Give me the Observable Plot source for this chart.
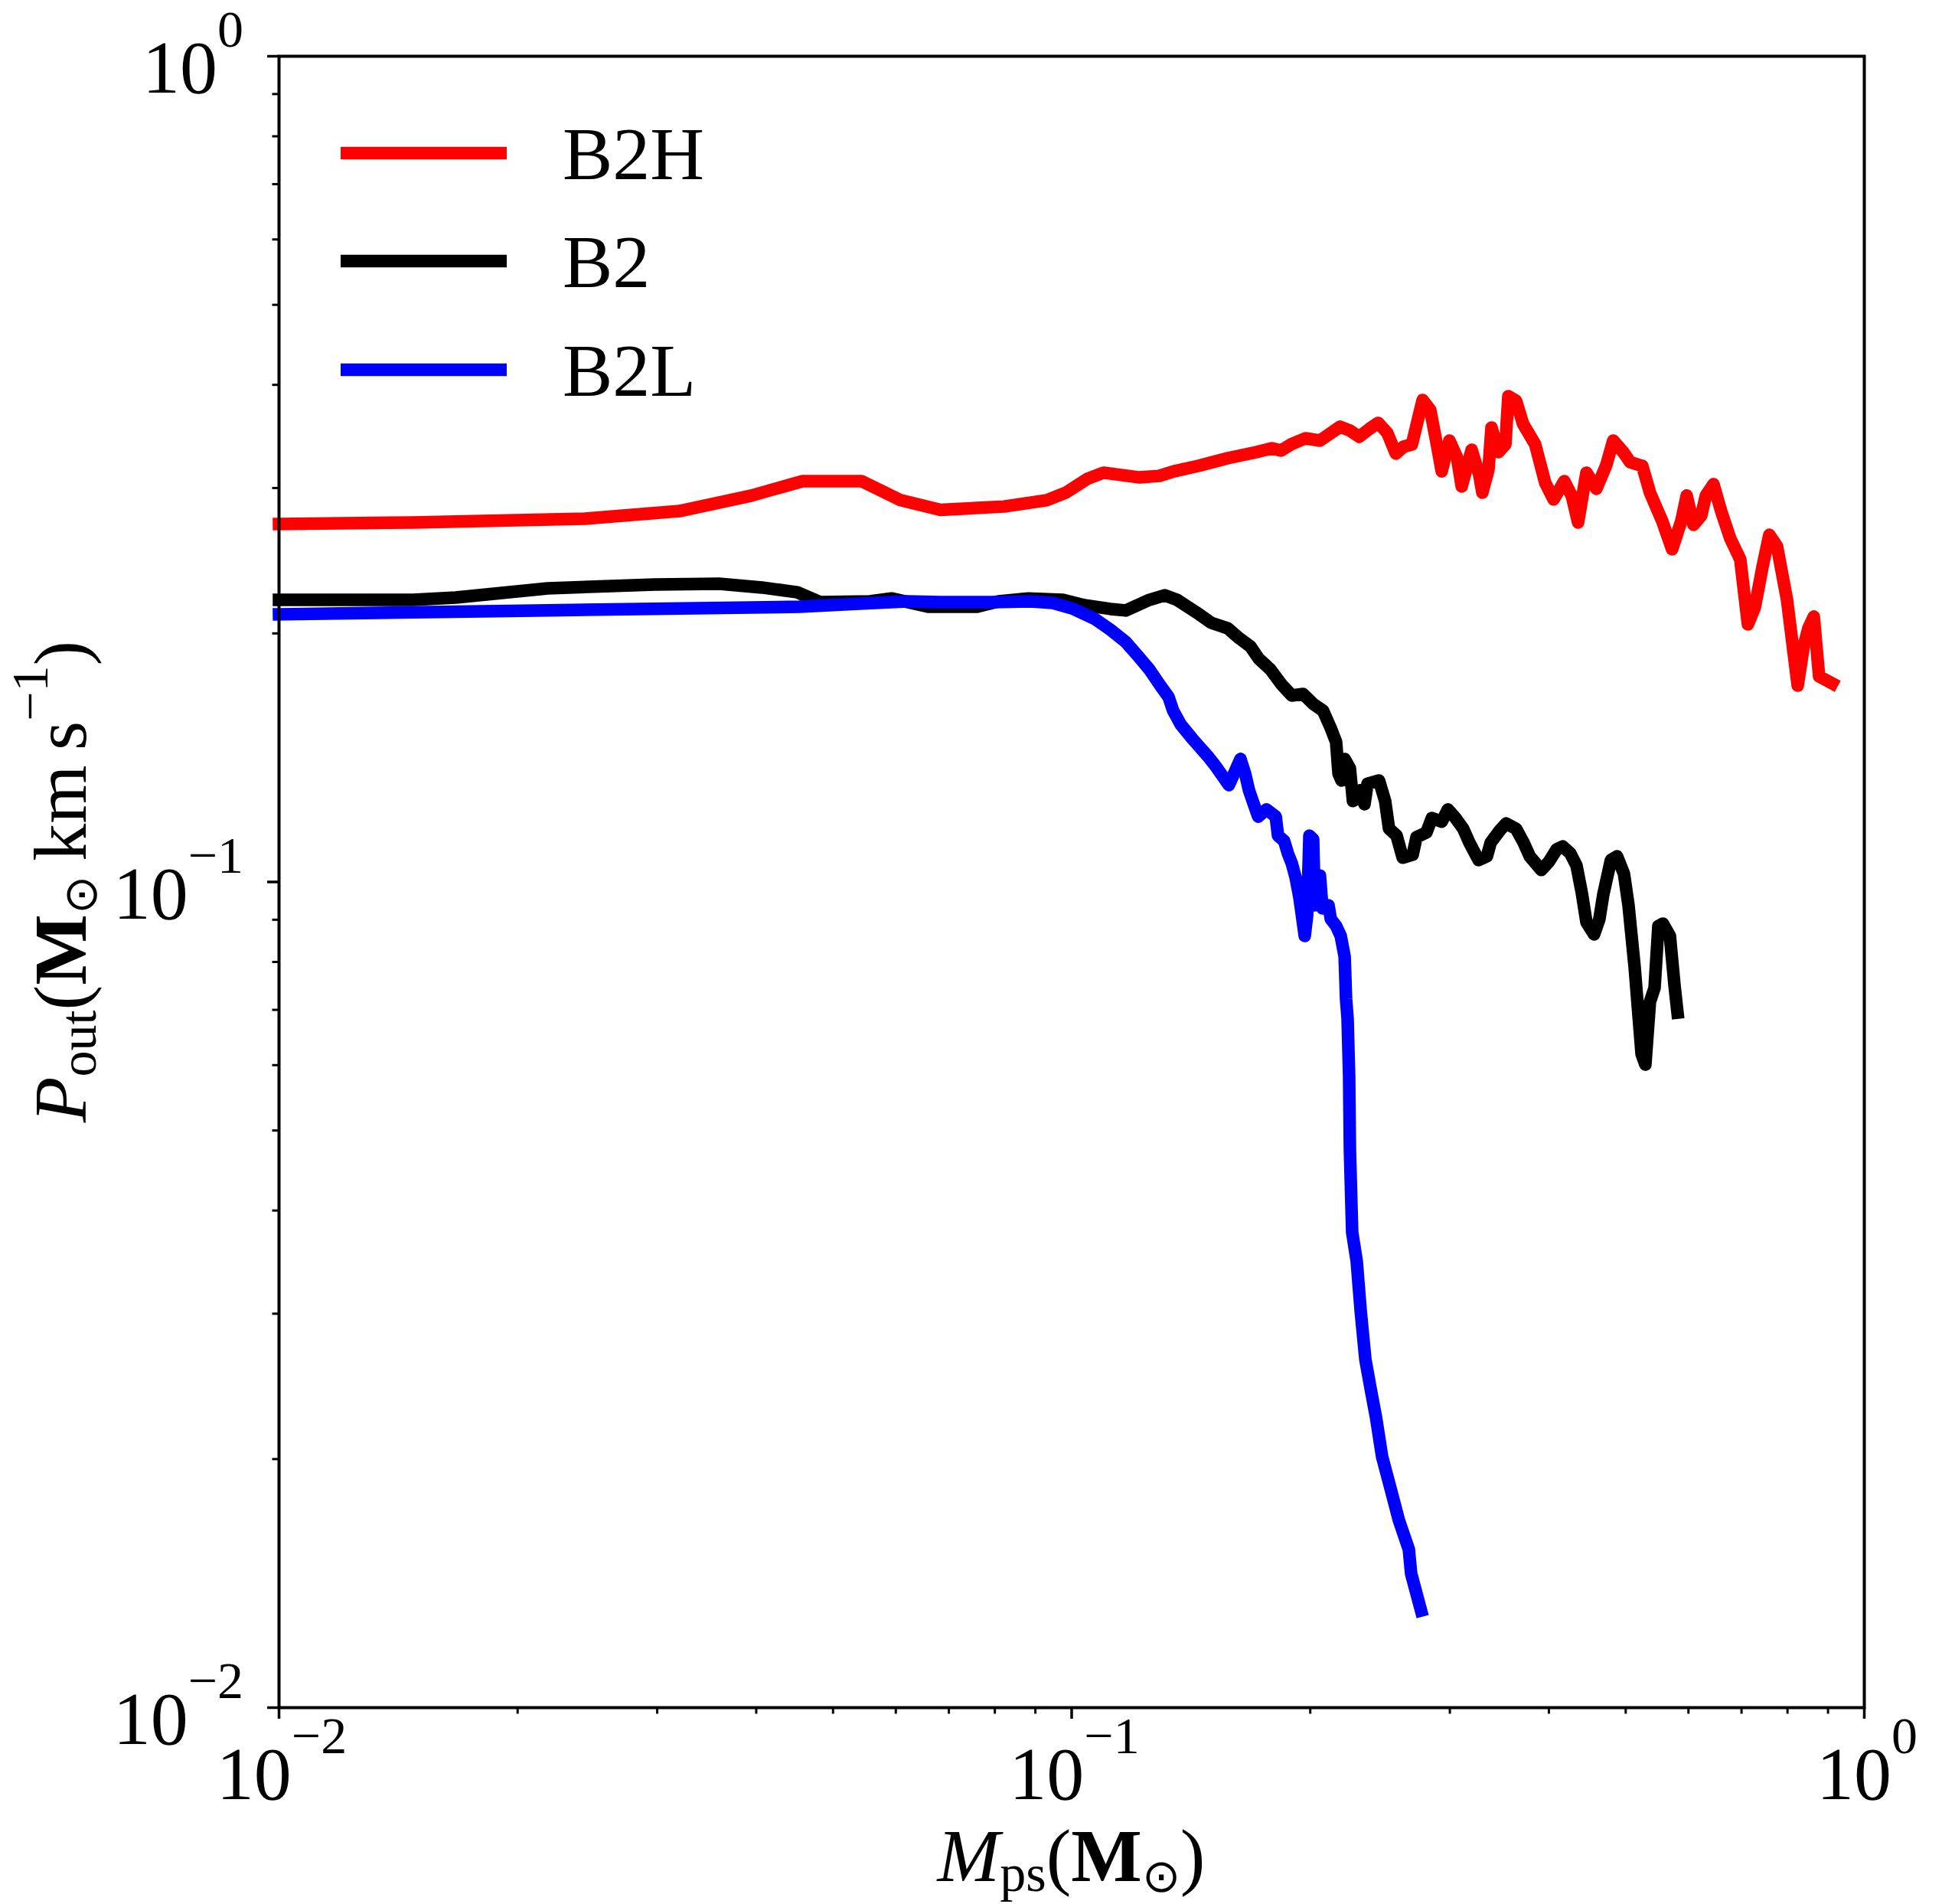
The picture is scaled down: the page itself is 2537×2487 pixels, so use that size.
<!DOCTYPE html>
<html><head><meta charset="utf-8">
<script src="https://cdn.jsdelivr.net/npm/d3@7"></script>
<script src="https://cdn.jsdelivr.net/npm/@observablehq/plot@0.6"></script>
<style>body{margin:0;background:#fff;} svg{display:block}</style>
</head><body><div id="chart"></div>
<script>
const seriesNames = ["B2H", "B2", "B2L"];
const seriesColors = ["#ff0000", "#000000", "#0000ff"];

const b2hM = [0.0100,0.01476,0.02433,0.03200,0.03943,0.04576,0.05431,0.06084,0.06831,0.08214,0.09302,0.09836,0.1047,0.1097,0.1218,0.1290,0.1346,0.1445,0.1573,0.1711,0.1789,0.1837,0.1891,0.1972,0.2057,0.2181,0.2244,0.2305,0.2373,0.2436,0.2502,0.2564,0.2622,0.2687,0.2735,0.2772,0.2834,0.2885,0.2930,0.2996,0.3063,0.3105,0.3196,0.3268,0.3297,0.3356,0.3386,0.3455,0.3525,0.3556,0.3636,0.3710,0.3844,0.3957,0.4055,0.4183,0.4277,0.4354,0.4461,0.4592,0.4726,0.4822,0.4964,0.5064,0.5247,0.5365,0.5559,0.5722,0.5877,0.5969,0.6089,0.6227,0.6311,0.6452,0.6597,0.6776,0.6974,0.7131,0.7276,0.7440,0.7589,0.7760,0.7989,0.8241,0.8388,0.8501,0.8635,0.8770,0.9108];
const b2hP = [0.2713,0.2725,0.2754,0.2813,0.2937,0.3058,0.3058,0.2900,0.2822,0.2849,0.2900,0.2962,0.3078,0.3131,0.3090,0.3103,0.3143,0.3191,0.3260,0.3316,0.3352,0.3330,0.3388,0.3446,0.3424,0.3559,0.3521,0.3461,0.3536,0.3597,0.3498,0.3302,0.3366,0.3388,0.3635,0.3835,0.3730,0.3409,0.3143,0.3424,0.3267,0.3013,0.3337,0.3110,0.2962,0.3157,0.3551,0.3316,0.3388,0.3876,0.3826,0.3589,0.3388,0.3045,0.2906,0.3058,0.2931,0.2725,0.3131,0.2994,0.3198,0.3424,0.3316,0.3225,0.3191,0.2962,0.2737,0.2529,0.2737,0.2937,0.2707,0.2778,0.2937,0.3032,0.2813,0.2605,0.2459,0.2051,0.2150,0.2407,0.2633,0.2550,0.2196,0.1729,0.1932,0.2029,0.2096,0.1774,0.1740];

const b2M = [0.0100,0.01476,0.01671,0.02183,0.02980,0.03592,0.04068,0.04506,0.04818,0.05565,0.05924,0.06606,0.07598,0.08087,0.08819,0.09748,0.1037,0.1119,0.1170,0.1253,0.1310,0.1358,0.1435,0.1500,0.1573,0.1626,0.1681,0.1722,0.1781,0.1841,0.1895,0.1959,0.2017,0.2076,0.2123,0.2156,0.2171,0.2190,0.2210,0.2244,0.2264,0.2310,0.2341,0.2362,0.2442,0.2486,0.2514,0.2570,0.2616,0.2693,0.2723,0.2803,0.2847,0.2930,0.2983,0.3050,0.3119,0.3175,0.3261,0.3341,0.3378,0.3470,0.3532,0.3636,0.3717,0.3784,0.3913,0.4000,0.4091,0.4164,0.4257,0.4334,0.4402,0.4461,0.4561,0.4632,0.4685,0.4790,0.4876,0.4975,0.5041,0.5132,0.5236,0.5294,0.5365,0.5437,0.5498,0.5572,0.5685,0.5761,0.5812];
const b2P = [0.2196,0.2196,0.2210,0.2268,0.2292,0.2297,0.2273,0.2243,0.2182,0.2187,0.2205,0.2154,0.2154,0.2187,0.2205,0.2196,0.2164,0.2141,0.2132,0.2196,0.2224,0.2196,0.2122,0.2060,0.2029,0.1974,0.1928,0.1864,0.1809,0.1733,0.1682,0.1689,0.1643,0.1612,0.1535,0.1477,0.1353,0.1327,0.1409,0.1373,0.1253,0.1291,0.1242,0.1315,0.1327,0.1253,0.1160,0.1138,0.1070,0.1079,0.1133,0.1148,0.1195,0.1183,0.1224,0.1195,0.1160,0.1116,0.1063,0.1074,0.1116,0.1155,0.1177,0.1160,0.1116,0.1074,0.1034,0.1058,0.1095,0.1104,0.1083,0.1047,0.09696,0.08939,0.08640,0.09016,0.09654,0.1063,0.1074,0.1023,0.09369,0.07880,0.06190,0.06009,0.07158,0.07440,0.08845,0.08903,0.08603,0.07504,0.06947];

const b2lM = [0.0100,0.02111,0.04536,0.05395,0.06207,0.06814,0.07962,0.08878,0.09449,0.1006,0.1070,0.1119,0.1170,0.1212,0.1253,0.1296,0.1325,0.1343,0.1373,0.1419,0.1484,0.1521,0.1579,0.1633,0.1655,0.1674,0.1692,0.1719,0.1761,0.1809,0.1821,0.1854,0.1874,0.1895,0.1916,0.1938,0.1955,0.1968,0.1982,0.1995,0.2017,0.2026,0.2057,0.2072,0.2109,0.2123,0.2156,0.2185,0.2210,0.2219,0.2229,0.2239,0.2244,0.2259,0.2289,0.2315,0.2347,0.2383,0.2421,0.2464,0.2530,0.2587,0.2663,0.2681,0.2759];
const b2lP = [0.2109,0.2132,0.2154,0.2173,0.2187,0.2182,0.2182,0.2187,0.2178,0.2141,0.2082,0.2021,0.1953,0.1879,0.1809,0.1725,0.1675,0.1612,0.1551,0.1492,0.1421,0.1379,0.1310,0.1409,0.1353,0.1291,0.1253,0.1200,0.1224,0.1200,0.1138,0.1121,0.1083,0.1054,0.1014,0.09572,0.09016,0.08603,0.09115,0.1138,0.1126,0.09369,0.1018,0.09290,0.09369,0.09016,0.08845,0.08603,0.08121,0.07223,0.06830,0.05819,0.04741,0.03764,0.03472,0.03030,0.02642,0.02435,0.02246,0.02014,0.01830,0.01687,0.01555,0.01453,0.01311];

const xMajorTicks = [0.01, 0.1, 1];
const xTickExponents = ["\u22122", "\u22121", "0"];
const yMajorTicks = [0.01, 0.1, 1];
const yTickExponents = ["\u22122", "\u22121", "0"];
const minorTicks = [0.02,0.03,0.04,0.05,0.06,0.07,0.08,0.09,0.2,0.3,0.4,0.5,0.6,0.7,0.8,0.9];

const seriesM = [b2hM, b2M, b2lM];
const seriesP = [b2hP, b2P, b2lP];
const rows = [];
seriesNames.forEach((name, i) => {
  seriesM[i].forEach((m, j) => rows.push({series: name, M: m, P: seriesP[i][j]}));
});

const W = 2537, H = 2487;
const mL = 364, mR = 102, mT = 73, mB = 257;
const FONT = "'Liberation Serif','Times New Roman',Times,serif";
const FS = 98, FSS = 68;

const plot = Plot.plot({
  width: W, height: H,
  marginLeft: mL, marginRight: mR, marginTop: mT, marginBottom: mB,
  style: {background: "white"},
  x: {type: "log", domain: [0.01, 1], axis: null},
  y: {type: "log", domain: [0.01, 1], axis: null},
  color: {domain: seriesNames, range: seriesColors},
  marks: [
    Plot.line(rows, {x: "M", y: "P", z: "series", stroke: "series", strokeWidth: 16.5, strokeLinejoin: "round", strokeLinecap: "square"}),
    Plot.axisX({ticks: xMajorTicks, anchor: "bottom", tickSize: 15, strokeWidth: 3.5, tickFormat: () => "", label: null}),
    Plot.axisX({ticks: minorTicks, anchor: "bottom", tickSize: 8.5, strokeWidth: 3, tickFormat: () => "", label: null}),
    Plot.axisY({ticks: yMajorTicks, anchor: "left", tickSize: 15, strokeWidth: 3.5, tickFormat: () => "", label: null}),
    Plot.axisY({ticks: minorTicks, anchor: "left", tickSize: 8.5, strokeWidth: 3, tickFormat: () => "", label: null}),
    Plot.frame({stroke: "black", strokeWidth: 4})
  ]
});
document.getElementById("chart").appendChild(plot);

const svg = d3.select(plot);
const sx = plot.scale("x"), sy = plot.scale("y");
const bottomY = H - mB;

// x tick labels
xMajorTicks.forEach((v, i) => {
  const t = svg.append("text").attr("x", sx.apply(v) + 4).attr("y", bottomY + 120)
    .attr("text-anchor", "middle").attr("font-family", FONT).attr("font-size", FS).attr("fill", "black");
  t.append("tspan").text("10");
  t.append("tspan").attr("font-size", FSS).attr("dy", -60).text(xTickExponents[i]);
});
// y tick labels
yMajorTicks.forEach((v, i) => {
  const t = svg.append("text").attr("x", mL - 46).attr("y", sy.apply(v) + 48)
    .attr("text-anchor", "end").attr("font-family", FONT).attr("font-size", FS).attr("fill", "black");
  t.append("tspan").text("10");
  t.append("tspan").attr("font-size", FSS).attr("dy", -60).text(yTickExponents[i]);
});

// x title
const xt = svg.append("text").attr("x", (sx.range[0] + sx.range[1]) / 2).attr("y", bottomY + 227)
  .attr("text-anchor", "middle").attr("font-family", FONT).attr("font-size", FS).attr("fill", "black");
xt.append("tspan").attr("font-style", "italic").text("M");
xt.append("tspan").attr("font-size", FSS).attr("dy", 13).text("ps");
xt.append("tspan").attr("dy", -13).text("(");
xt.append("tspan").attr("font-weight", "bold").text("M");
xt.append("tspan").attr("font-size", 60).attr("dy", 14).text("\u2299");
xt.append("tspan").attr("dy", -14).text(")");

// y title
const cy = (sy.range[0] + sy.range[1]) / 2;
const yt = svg.append("text").attr("transform", `translate(112,${cy}) rotate(-90)`)
  .attr("text-anchor", "middle").attr("font-family", FONT).attr("font-size", FS).attr("fill", "black");
yt.append("tspan").attr("font-style", "italic").text("P");
yt.append("tspan").attr("font-size", FSS).attr("dy", 13).text("out");
yt.append("tspan").attr("dy", -13).text("(");
yt.append("tspan").attr("font-weight", "bold").text("M");
yt.append("tspan").attr("font-size", 60).attr("dy", 14).text("\u2299");
yt.append("tspan").attr("dy", -14).text("\u2009km\u2009s");
yt.append("tspan").attr("font-size", FSS).attr("dy", -50).text("\u22121");
yt.append("tspan").attr("dy", 50).text(")");

// legend
const legY = [200, 341, 483];
seriesNames.forEach((name, i) => {
  svg.append("line").attr("x1", 445).attr("x2", 662).attr("y1", legY[i]).attr("y2", legY[i])
    .attr("stroke", seriesColors[i]).attr("stroke-width", 16.5);
  svg.append("text").attr("x", 735).attr("y", legY[i] + 34).attr("text-anchor", "start")
    .attr("font-family", FONT).attr("font-size", FS).attr("fill", "black").text(name);
});
</script>
</body></html>
